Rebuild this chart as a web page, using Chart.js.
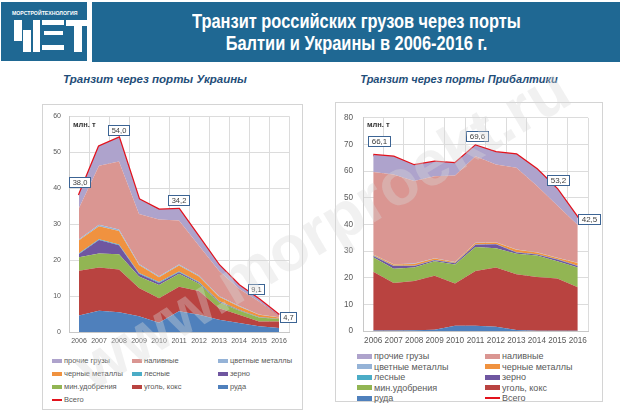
<!DOCTYPE html>
<html>
<head>
<meta charset="utf-8">
<script src="https://cdn.jsdelivr.net/npm/chart.js@4.4.1/dist/chart.umd.min.js"></script>
<style>
  body { margin:0; width:620px; height:411px; background:#fff; overflow:hidden; position:relative; font-family:"Liberation Sans", Arial, sans-serif; }
  .abs { position:absolute; }
  #logo { left:1px; top:2px; width:86px; height:59px; background:#1f6893; overflow:hidden; }
  #logo .t { position:absolute; left:11px; top:8px; color:#fff; font-weight:bold; font-size:5.2px; white-space:nowrap; }
  #logo .b { position:absolute; background:#fff; }
  #title { left:92px; top:2px; width:528px; height:60px; background:#1f6893; color:#fff; text-align:center;
           font-weight:bold; font-size:20px; line-height:22px; padding-top:8px; box-sizing:border-box; }
  #title span { display:inline-block; transform:scaleX(0.82); transform-origin:50% 50%; white-space:nowrap; }
  .sub { top:73px; color:#1f4e79; font-weight:bold; font-style:italic; white-space:nowrap; text-align:center; }
  .panel { border:1px solid #d4d4d4; box-sizing:border-box; background:#fff; }
  .unit { font-weight:bold; font-size:7.5px; color:#333; }
  .legend { display:grid; color:#595959; }
  .legend div { display:flex; align-items:center; white-space:nowrap; }
  .legend span.sw { display:inline-block; margin-right:2px; }
  #wm { left:12px; top:196px; width:620px; text-align:center; font-weight:bold; font-size:64px; line-height:64px; color:rgba(215,215,215,0.36);
        transform:rotate(-31deg); transform-origin:50% 50%; pointer-events:none; white-space:nowrap; }
</style>
</head>
<body>
<div id="logo" class="abs">
  <div class="t">МОРСТРОЙТЕХНОЛОГИЯ</div>
  <div class="b" style="left:13px;top:18px;width:8px;height:21px"></div>
  <div class="b" style="left:22px;top:28px;width:8px;height:22px"></div>
  <div class="b" style="left:32px;top:18px;width:7px;height:32px"></div>
  <div class="b" style="left:41px;top:18px;width:22px;height:5px"></div>
  <div class="b" style="left:43px;top:29px;width:19px;height:4px"></div>
  <div class="b" style="left:41px;top:43px;width:22px;height:5px"></div>
  <div class="b" style="left:65px;top:18px;width:22px;height:6px"></div>
  <div class="b" style="left:73px;top:24px;width:8px;height:26px"></div>
</div>
<div id="title" class="abs"><span>Транзит российских грузов через порты</span><br><span>Балтии и Украины в 2006-2016 г.</span></div>

<div class="abs sub" style="left:55px;width:200px;font-size:11.5px">Транзит через порты Украины</div>
<div class="abs sub" style="left:359px;width:200px;font-size:11px">Транзит через порты Прибалтики</div>

<div class="abs panel" style="left:42px;top:104px;width:261px;height:306px"></div>
<div class="abs panel" style="left:335px;top:102px;width:268px;height:300px"></div>

<canvas id="ua" class="abs" width="261" height="244" style="left:42px;top:104px"></canvas>
<canvas id="bl" class="abs" width="268" height="245" style="left:335px;top:103px"></canvas>

<div class="abs unit" style="left:73px;top:120px">млн. т</div>
<div class="abs unit" style="left:367px;top:120px">млн. т</div>

<div id="uaLegend" class="abs legend" style="left:52px;top:354px;grid-template-columns:80px 86px 80px;grid-auto-rows:13px;font-size:7.5px"></div>
<div id="blLegend" class="abs legend" style="left:357px;top:351px;grid-template-columns:128px 128px;grid-auto-rows:10.5px;font-size:9px"></div>

<div id="wm" class="abs">www.morproekt.ru</div>

<script>
const years = ['2006','2007','2008','2009','2010','2011','2012','2013','2014','2015','2016'];
const seriesNames = ['руда','уголь, кокс','мин.удобрения','зерно','лесные','черные металлы','цветные металлы','наливные','прочие грузы'];
const totalName = 'Всего';

// Украина, млн т
const uaOre      = [4.6, 5.9, 5.5, 4.4, 2.6, 5.8, 4.8, 3.4, 2.5, 1.6, 1.1];
const uaCoal     = [12.4, 12.0, 11.9, 7.8, 6.8, 6.8, 6.6, 3.2, 2.3, 1.3, 1.8];
const uaFert     = [3.8, 3.9, 4.2, 3.2, 3.7, 3.6, 2.0, 1.7, 1.2, 1.1, 0.7];
const uaGrain    = [0.9, 3.8, 2.5, 0.8, 0.5, 0.4, 0.3, 0.2, 0.1, 0.1, 0.05];
const uaTimber   = [0.2, 0.2, 0.2, 0.2, 0.3, 0.2, 0.2, 0.1, 0.1, 0.1, 0.05];
const uaFerrous  = [3.6, 3.6, 3.8, 2.2, 1.3, 1.7, 1.5, 1.2, 0.9, 0.6, 0.3];
const uaNonFerr  = [0.3, 0.4, 0.4, 0.3, 0.3, 0.3, 0.3, 0.2, 0.2, 0.1, 0.1];
const uaLiquid   = [8.7, 16.4, 18.9, 13.9, 15.8, 12.2, 8.3, 7.0, 4.7, 3.6, 0.4];
const uaOther    = [3.5, 5.4, 6.6, 4.1, 2.7, 3.2, 2.4, 1.6, 1.0, 0.6, 0.2];
const uaTotal    = [38.0, 51.6, 54.0, 36.9, 34.0, 34.2, 26.4, 18.6, 13.0, 9.1, 4.7];
const uaLabelIdx = [0, 2, 5, 9, 10];

// Прибалтика, млн т
const blOre      = [0.2, 0.2, 0.3, 0.5, 2.0, 2.0, 1.6, 0.4, 0.1, 0.1, 0.1];
const blCoal     = [22.0, 17.8, 18.5, 20.2, 15.8, 20.5, 22.2, 20.9, 20.2, 19.6, 16.3];
const blFert     = [5.5, 5.4, 5.0, 5.5, 7.2, 9.0, 7.3, 7.7, 8.0, 6.5, 7.4];
const blGrain    = [0.5, 1.0, 0.6, 0.4, 0.4, 0.9, 1.5, 0.5, 0.4, 0.6, 0.6];
const blTimber   = [0.1, 0.1, 0.1, 0.1, 0.1, 0.1, 0.1, 0.1, 0.1, 0.1, 0.1];
const blFerrous  = [0.3, 0.5, 0.7, 0.5, 0.3, 0.5, 0.5, 0.9, 0.7, 0.5, 1.0];
const blNonFerr  = [0.1, 0.1, 0.1, 0.1, 0.1, 0.1, 0.1, 0.1, 0.1, 0.1, 0.1];
const blLiquid   = [31.0, 33.7, 31.0, 30.8, 32.5, 32.5, 29.2, 30.7, 24.9, 19.6, 14.2];
const blOther    = [6.4, 6.6, 5.9, 5.4, 4.6, 4.0, 4.6, 5.0, 6.2, 6.1, 2.7];
const blTotal    = [66.1, 65.4, 62.2, 63.5, 63.0, 69.6, 67.1, 66.3, 60.7, 53.2, 42.5];
const blLabelIdx = [0, 5, 9, 10];

const colors = ['#4f80bc','#b94340','#92b553','#6f56a0','#4bacc6','#f0923f','#95b3d7','#da9692','#aea3cc'];
const totalColor = '#e2131d';

// label box offsets from the point (style only)
const uaOffsets = [[0,-13],[-1,-8],[-1,-9],[-3,-10],[9,2]];
const blOffsets = [[6,-14],[1.5,-10],[1,-9],[11,1]];

const boxLabels = {
  id: 'boxLabels',
  afterDatasetsDraw(chart, args, o) {
    const ctx = chart.ctx;
    const ds = chart.data.datasets.length - 1;
    const meta = chart.getDatasetMeta(ds);
    ctx.save();
    ctx.font = o.font;
    o.idx.forEach((i, k) => {
      const pt = meta.data[i];
      const txt = chart.data.datasets[ds].data[i].toFixed(1).replace('.', ',');
      const w = Math.round(ctx.measureText(txt).width + 6), h = o.h;
      const cx = pt.x + o.off[k][0], cy = pt.y + o.off[k][1];
      const x0 = Math.round(cx - w / 2) + 0.5, y0 = Math.round(cy - h / 2) + 0.5;
      ctx.fillStyle = '#fff';
      ctx.fillRect(x0, y0, w, h);
      ctx.strokeStyle = '#3c6494';
      ctx.lineWidth = 1;
      ctx.strokeRect(x0, y0, w, h);
      ctx.fillStyle = '#404040';
      ctx.textAlign = 'center';
      ctx.textBaseline = 'middle';
      ctx.fillText(txt, x0 + w / 2, y0 + h / 2 + 0.5);
    });
    ctx.restore();
  }
};

function makeChart(id, series, total, yMax, geo, labelIdx, offsets) {
  const datasets = series.map((d, i) => ({
    label: seriesNames[i],
    data: d,
    backgroundColor: colors[i],
    borderWidth: 0,
    pointRadius: 0,
    fill: i === 0 ? 'origin' : '-1',
    stack: 'cargo'
  }));
  datasets.push({
    label: totalName,
    data: total,
    borderColor: totalColor,
    borderWidth: 2.5,
    pointRadius: 0,
    fill: false,
    stack: 'total'
  });
  const tickFont = { family: '"Liberation Sans", Arial, sans-serif', size: geo.fs };
  return new Chart(document.getElementById(id), {
    type: 'line',
    data: { labels: years, datasets: datasets },
    plugins: [boxLabels],
    options: {
      responsive: false,
      animation: false,
      devicePixelRatio: 1,
      layout: { padding: { top: geo.top, right: geo.right, left: 0, bottom: 0 } },
      elements: { line: { tension: 0 } },
      plugins: {
        legend: { display: false },
        tooltip: { enabled: false },
        boxLabels: { idx: labelIdx, off: offsets, font: geo.lf + 'px "Liberation Sans", Arial, sans-serif', h: 10 }
      },
      scales: {
        x: {
          offset: true,
          grid: { offset: true, color: '#dcdcdc', drawTicks: false },
          border: { color: '#c8c8c8' },
          ticks: { font: tickFont, color: '#595959', padding: 5, autoSkip: false, maxRotation: 0 },
          afterFit: s => { s.height = geo.xh; }
        },
        y: {
          stacked: true,
          min: 0, max: yMax,
          grid: { color: '#dcdcdc', drawTicks: false },
          border: { color: '#c8c8c8' },
          ticks: { stepSize: 10, font: tickFont, color: '#595959', padding: geo.yp },
          afterFit: s => { s.width = geo.yw; }
        }
      }
    }
  });
}

function makeLegend(id, swW, swH) {
  const el = document.getElementById(id);
  const items = seriesNames.map((n, i) => [n, colors[i]]).reverse();
  items.push([totalName, totalColor]);
  items.forEach(([n, c], k) => {
    const d = document.createElement('div');
    const isLine = k === items.length - 1;
    d.innerHTML = '<span class="sw" style="width:' + swW + 'px;height:' + (isLine ? 2 : swH) + 'px;background:' + c + '"></span>' + n;
    el.appendChild(d);
  });
}

makeChart('ua', [uaOre, uaCoal, uaFert, uaGrain, uaTimber, uaFerrous, uaNonFerr, uaLiquid, uaOther], uaTotal, 60,
  { top: 10, right: 14, yw: 27, xh: 16, yp: 8, fs: 7, lf: 7.5 }, uaLabelIdx, uaOffsets);
makeChart('bl', [blOre, blCoal, blFert, blGrain, blTimber, blFerrous, blNonFerr, blLiquid, blOther], blTotal, 80,
  { top: 11, right: 15, yw: 28, xh: 17, yp: 10, fs: 8.2, lf: 8 }, blLabelIdx, blOffsets);

makeLegend('uaLegend', 10, 4);
makeLegend('blLegend', 15, 5);
</script>
</body>
</html>
